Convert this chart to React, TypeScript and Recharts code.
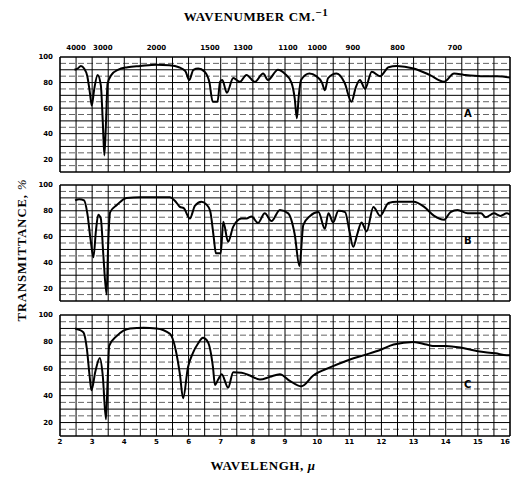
import React from 'react';
import { LineChart, Line, XAxis, YAxis, ReferenceLine } from 'recharts';

// wavelength (microns) / transmittance (%)
const wlA = [2.45, 2.55, 2.65, 2.75, 2.85, 2.93, 2.99, 3.06, 3.17, 3.27, 3.33, 3.38, 3.43, 3.48, 3.6, 3.8, 4.1, 4.5, 5.0, 5.4, 5.7, 5.9, 6.02, 6.15, 6.3, 6.5, 6.65, 6.75, 6.9, 6.98, 7.05, 7.19, 7.39, 7.6, 7.8, 8.06, 8.32, 8.47, 8.78, 8.99, 9.2, 9.3, 9.37, 9.43, 9.5, 9.76, 9.97, 10.15, 10.24, 10.34, 10.6, 10.85, 11.07, 11.2, 11.33, 11.49, 11.7, 11.96, 12.22, 12.48, 13.0, 13.5, 13.95, 14.26, 14.57, 15.09, 15.6, 16.0];
const tA = [90, 91, 93, 91, 85, 72, 62, 74, 86, 78, 50, 23, 48, 79, 86, 90, 92, 93, 94, 93.5, 92, 89, 82, 90, 91, 88.5, 80, 65, 65, 80.6, 82, 72, 83.5, 80.6, 86, 80.6, 87, 82, 90, 87, 80, 68, 52, 70, 82, 87, 85, 80, 74, 83.5, 87, 80, 65, 76, 82, 75, 88.5, 85, 92, 93, 91, 86, 80.6, 87, 86, 85, 85, 84];

const wlB = [2.47, 2.6, 2.75, 2.85, 2.95, 3.04, 3.12, 3.19, 3.27, 3.35, 3.45, 3.5, 3.56, 3.77, 4.07, 4.5, 5.0, 5.42, 5.6, 5.73, 5.85, 6.04, 6.2, 6.4, 6.55, 6.67, 6.78, 6.85, 7.0, 7.08, 7.23, 7.39, 7.65, 7.8, 7.96, 8.16, 8.37, 8.58, 8.84, 9.1, 9.3, 9.45, 9.57, 9.78, 10.04, 10.24, 10.35, 10.5, 10.66, 10.87, 11.0, 11.12, 11.25, 11.38, 11.54, 11.75, 11.96, 12.22, 12.48, 13.0, 13.33, 13.64, 13.95, 14.15, 14.37, 14.68, 15.1, 15.25, 15.5, 15.7, 15.9, 16.0];
const tB = [88, 89, 88, 78, 58, 44, 65, 77, 74, 45, 15, 55, 79, 84.5, 90, 90.5, 90.5, 90.5, 87, 83, 82, 74, 84, 87, 85, 80, 60, 47, 47, 71.5, 56, 67.7, 74, 74, 75.6, 70.5, 78, 72, 80.6, 78, 62, 37, 69, 76, 79, 66, 78, 71, 80, 79, 65, 52, 62, 71, 64, 83, 76, 86, 87, 87, 83, 76, 73, 79, 80.6, 78, 78, 75, 78, 76, 78, 77];

const wlC = [2.47, 2.6, 2.73, 2.84, 2.92, 2.98, 3.1, 3.24, 3.33, 3.43, 3.48, 3.53, 3.77, 4.18, 4.6, 5.0, 5.42, 5.6, 5.73, 5.83, 5.98, 6.13, 6.3, 6.45, 6.6, 6.76, 6.82, 6.92, 7.03, 7.23, 7.39, 7.65, 7.91, 8.22, 8.53, 8.84, 9.15, 9.51, 9.88, 10.4, 10.92, 11.44, 11.96, 12.38, 13.0, 13.4, 13.6, 14.0, 14.5, 15.0, 15.55, 15.9, 16.0];
const tC = [90, 89, 87, 74, 55, 44, 58, 68, 55, 22.5, 50, 77, 84.5, 90, 90.5, 90, 86, 74, 56, 38, 61, 71.5, 79, 83, 80, 61, 48, 52, 56, 46, 57.4, 57, 55, 52, 54, 56, 51, 47, 55, 61, 66, 70, 74, 78, 80, 78, 77, 77, 75.6, 73, 71.5, 70, 70];

// axis ticks
const micronTicks = [2, 3, 4, 5, 6, 7, 8, 9, 10, 11, 12, 13, 14, 15, 16];
const waveNumbers = [4000, 3000, 2000, 1500, 1300, 1100, 1000, 900, 800, 700];
const pctTicks = [10, 20, 30, 40, 50, 60, 70, 80, 90, 100];
const pctMinor = [15, 25, 35, 45, 55, 65, 75, 85, 95];

const gridX = Array.from({ length: 29 }, (_, i) => 2 + i * 0.5);

const zip = (wl: number[], t: number[]) => wl.map((w, i) => ({ wl: w, t: t[i] }));

const tickStyle = { fontFamily: 'DejaVu Sans', fontSize: 7, fontWeight: 700, fill: '#000' };
const serif = { fontFamily: 'Liberation Serif', fontWeight: 700, color: '#000', position: 'absolute' as const };

// bottom micron labels; the last one is pulled inside the edge
function MicronTick({ x, y, payload }: any) {
  const last = payload.value === 16;
  return (
    <text x={x} y={y} dy="0.71em" textAnchor={last ? 'end' : 'middle'} {...tickStyle}>
      {payload.value}
    </text>
  );
}

function Panel({ data, top, height, mt, mb, showTop, showBottom, letter, letterY }: any) {
  return (
    <div style={{ position: 'absolute', left: 0, top, width: 512, height }}>
      <LineChart width={512} height={height} data={data} margin={{ top: mt, right: 2, bottom: mb, left: 0 }}>
        <XAxis
          dataKey="wl" type="number" domain={[2, 16]} ticks={micronTicks}
          hide={!showBottom} height={18} axisLine={false} tickLine={false}
          tickSize={0} tickMargin={3} tick={<MicronTick />} allowDataOverflow interval={0}
        />
        {showTop && (
          <XAxis
            xAxisId="top" dataKey="wl" orientation="top" type="number" domain={[2, 16]} allowDataOverflow
            ticks={waveNumbers.map((n) => 10000 / n)} tickFormatter={(v: number) => String(Math.round(10000 / v))}
            height={20} axisLine={false} tickLine={false} tickSize={0} tickMargin={7} tick={tickStyle}
            interval={0}
          />
        )}
        <YAxis
          type="number" domain={[10, 100]} ticks={pctTicks} width={60}
          axisLine={false} tickLine={false} tickSize={0} tickMargin={7} tick={tickStyle}
          tickFormatter={(v: number) => (v % 20 === 0 ? String(v) : '')} interval={0}
        />
        {pctMinor.map((v) => (
          <ReferenceLine key={'m' + v} y={v} stroke="#222" strokeWidth={0.7} strokeDasharray="6 3" />
        ))}
        {pctTicks.map((v) => (
          <ReferenceLine key={'h' + v} y={v} stroke="#000" strokeWidth={v === 10 || v === 100 ? 1.6 : 1} />
        ))}
        {gridX.map((v) => (
          <ReferenceLine key={'v' + v} x={v} stroke="#000" strokeWidth={v === 2 || v === 16 ? 1.6 : 1} />
        ))}
        <Line
          type="monotone" dataKey="t" stroke="#000" strokeWidth={2} dot={false}
          isAnimationActive={false}
        />
      </LineChart>
      <div style={{ position: 'absolute', left: 464, top: letterY, fontFamily: 'DejaVu Sans', fontWeight: 700, fontSize: 10 }}>
        {letter}
      </div>
    </div>
  );
}

export default function App() {
  return (
    <div style={{ position: 'absolute', left: 0, top: 0, width: 512, height: 477, background: '#fff', overflow: 'hidden' }}>
      <div style={{ ...serif, left: 0, width: 512, top: 6, textAlign: 'center', fontSize: 13, letterSpacing: 0.6 }}>
        WAVENUMBER CM.<sup style={{ fontSize: 11 }}>−1</sup>
      </div>
      <div
        style={{
          ...serif, left: 22, top: 250, fontSize: 12.5, letterSpacing: 1, whiteSpace: 'nowrap',
          transform: 'translate(-50%, -50%) rotate(-90deg)',
        }}
      >
        TRANSMITTANCE, <i style={{ fontWeight: 400 }}>%</i>
      </div>
      <Panel data={zip(wlA, tA)} top={0} height={180} mt={37} mb={8} showTop letter="A" letterY={108} />
      <Panel data={zip(wlB, tB)} top={175} height={135} mt={10} mb={9} letter="B" letterY={60} />
      <Panel data={zip(wlC, tC)} top={305} height={150} mt={10} mb={1} showBottom letter="C" letterY={74} />
      <div style={{ ...serif, left: 0, width: 526, top: 458, textAlign: 'center', fontSize: 13, letterSpacing: 0.6 }}>
        WAVELENGH, <i>μ</i>
      </div>
    </div>
  );
}
